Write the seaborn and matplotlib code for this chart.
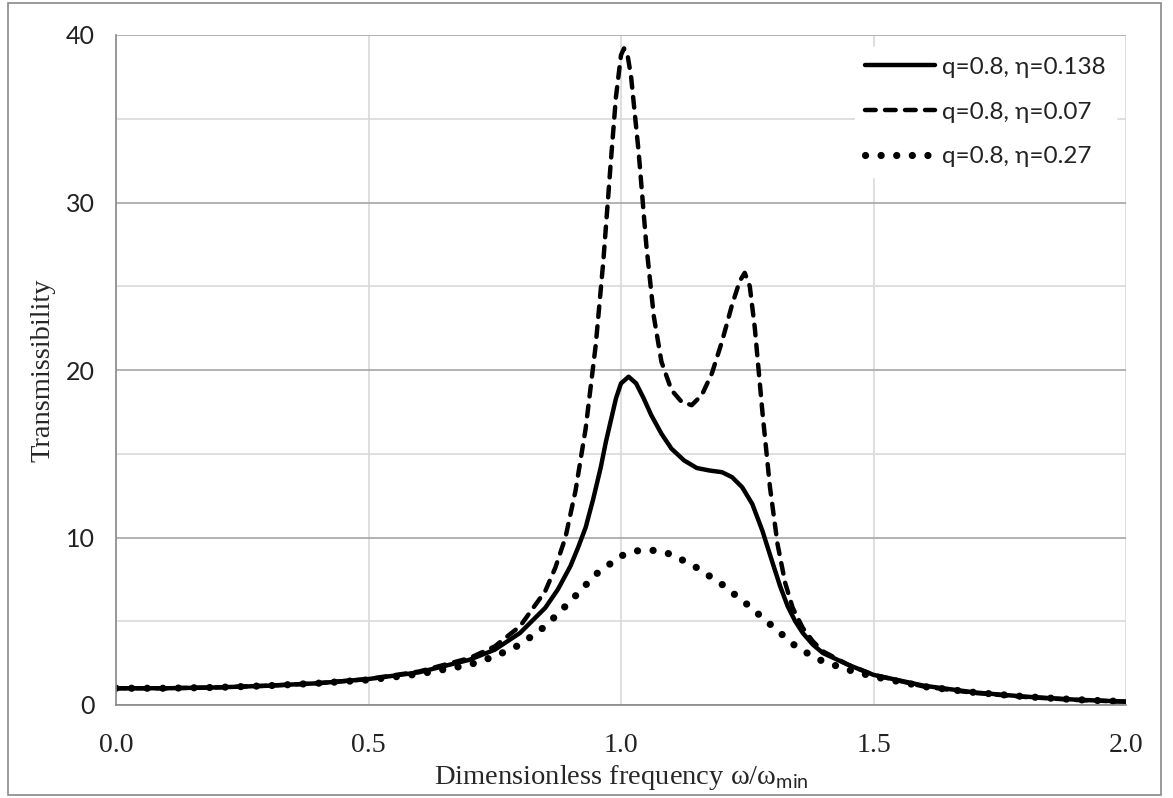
import matplotlib
matplotlib.use("Agg")
import matplotlib.pyplot as plt
import numpy as np
import pandas as pd
import seaborn as sns
from matplotlib.patches import Rectangle

# values
freq_a = [0.0, 0.1, 0.2, 0.3, 0.4, 0.5, 0.6, 0.7, 0.75, 0.8, 0.85, 0.875, 0.9, 0.915, 0.93,
          0.945, 0.96, 0.97, 0.98, 0.99, 1.0, 1.015, 1.03, 1.045, 1.06, 1.08, 1.1, 1.125,
          1.15, 1.175, 1.2, 1.22, 1.24, 1.26, 1.28, 1.3, 1.315, 1.33, 1.345, 1.36, 1.38,
          1.4, 1.45, 1.5, 1.6, 1.7, 1.8, 1.9, 2.0]
trans_a = [1.0, 1.0, 1.05, 1.15, 1.3, 1.55, 1.95, 2.7, 3.3, 4.3, 5.8, 6.9, 8.3, 9.4, 10.6,
           12.3, 14.2, 15.7, 17.0, 18.3, 19.2, 19.6, 19.2, 18.3, 17.3, 16.2, 15.3, 14.6,
           14.15, 14.0, 13.9, 13.6, 13.0, 12.0, 10.4, 8.5, 7.1, 5.9, 5.0, 4.3, 3.6,
           3.1, 2.4, 1.8, 1.15, 0.75, 0.5, 0.32, 0.2]

freq_b = [0.0, 0.1, 0.2, 0.3, 0.4, 0.5, 0.6, 0.7, 0.75, 0.8, 0.85, 0.87, 0.89, 0.91, 0.93,
          0.95, 0.965, 0.98, 0.99, 1.0, 1.006, 1.013, 1.02, 1.035, 1.05, 1.065, 1.08, 1.1,
          1.12, 1.14, 1.16, 1.18, 1.2, 1.22, 1.235, 1.245, 1.255, 1.265, 1.28, 1.295, 1.31,
          1.325, 1.34, 1.36, 1.38, 1.4, 1.45, 1.5, 1.6, 1.7, 1.8, 1.9, 2.0]
trans_b = [1.0, 1.0, 1.05, 1.15, 1.3, 1.55, 2.0, 2.8, 3.5, 4.7, 6.8, 8.2, 10.0, 12.8, 16.5,
           21.5, 26.5, 32.5, 36.3, 38.8, 39.2, 38.8, 37.5, 33.0, 27.5, 23.2, 20.5, 18.8,
           18.1, 17.9, 18.5, 19.8, 21.7, 23.9, 25.3, 25.8, 25.0, 22.5, 17.5, 13.0, 9.6,
           7.3, 5.8, 4.6, 3.8, 3.2, 2.4, 1.8, 1.1, 0.72, 0.48, 0.3, 0.2]

freq_c = [0.0, 0.1, 0.2, 0.3, 0.4, 0.5, 0.6, 0.7, 0.75, 0.8, 0.85, 0.9, 0.95, 1.0, 1.03,
          1.06, 1.1, 1.15, 1.2, 1.25, 1.3, 1.35, 1.4, 1.45, 1.5, 1.6, 1.7, 1.8, 1.9, 2.0]
trans_c = [1.0, 1.0, 1.05, 1.15, 1.3, 1.5, 1.85, 2.4, 2.9, 3.6, 4.7, 6.2, 7.8, 8.9, 9.2,
           9.25, 9.0, 8.2, 7.2, 6.0, 4.7, 3.4, 2.6, 2.1, 1.7, 1.1, 0.75, 0.5, 0.32, 0.2]

labels = ["q=0.8, η=0.138", "q=0.8, η=0.07", "q=0.8, η=0.27"]

sns.set_style("white")
plt.rcParams['font.family'] = ['Lato', 'DejaVu Sans']
plt.rcParams['mathtext.fontset'] = 'custom'
plt.rcParams['mathtext.rm'] = 'Lato'

fig = plt.figure(figsize=(11.73, 7.98), dpi=100)
ax = fig.add_axes([116 / 1173, 93 / 798, 1010 / 1173, 670 / 798])

styles = [
    dict(lw=3.2),
    dict(lw=3.2, dashes=(2.4, 2.1)),
    dict(lw=5.2, dashes=(0.01, 2.15)),
]
for f, t, lab, st in zip([freq_a, freq_b, freq_c], [trans_a, trans_b, trans_c], labels, styles):
    df = pd.DataFrame({"freq": f, "trans": t})
    sns.lineplot(data=df, x="freq", y="trans", ax=ax, color="black", label=lab,
                 lw=st["lw"], sort=False)
    line = ax.lines[-1]
    if "dashes" in st:
        line.set_dashes(st["dashes"])
        line.set_dash_capstyle("round")
    line.set_solid_capstyle("round")
    line.set_solid_joinstyle("round")

ax.set_xlim(0, 2)
ax.set_ylim(0, 40)
ax.set_xticks(np.arange(0, 2.01, 0.5))
ax.set_xticklabels(["0.0", "0.5", "1.0", "1.5", "2.0"], family="Liberation Serif", fontsize=20)
ax.set_yticks(np.arange(0, 41, 10))
ax.set_yticklabels(["0", "10", "20", "30", "40"], fontsize=18)
ax.set_yticks(np.arange(5, 40, 10), minor=True)

ax.grid(axis="y", which="major", color="#a6a6a6", lw=1.2)
ax.grid(axis="y", which="minor", color="#d9d9d9", lw=1.2)
ax.grid(axis="x", which="major", color="#d9d9d9", lw=1.2)
ax.set_axisbelow(True)
for s in ["top", "right"]:
    ax.spines[s].set_visible(False)
for s in ["left", "bottom"]:
    ax.spines[s].set_color("#898989")
    ax.spines[s].set_linewidth(1.2)
ax.tick_params(axis="y", which="major", direction="out", length=6, width=1.2, color="#898989", pad=9, labelcolor="#222222")
ax.tick_params(axis="y", which="minor", length=0)
ax.tick_params(axis="x", direction="out", length=7, width=1.2, color="#898989", pad=13, labelcolor="#222222")

ax.set_xlabel(r"Dimensionless frequency ω/ω$_{\mathrm{min}}$", family="Liberation Serif", fontsize=20.5, labelpad=4)
ax.set_ylabel("Transmissibility", family="Liberation Serif", fontsize=20.5, labelpad=8)

leg = ax.legend(loc="upper left", bbox_to_anchor=(855 / 1173, 1 - 47 / 798), bbox_transform=fig.transFigure,
                frameon=True, fancybox=False, edgecolor="white", facecolor="white", framealpha=1,
                fontsize=17.5, handlelength=2.9, handletextpad=0.3, labelspacing=0.98, borderpad=0.4,
                borderaxespad=0)
for t in leg.get_texts():
    t.set_color("#222222")

fig.patches.append(Rectangle((8 / 1173, 3 / 798), 1153 / 1173, 792 / 798, transform=fig.transFigure,
                             fill=False, edgecolor="#898989", lw=1.2))

fig.savefig("out.png", dpi=100)
